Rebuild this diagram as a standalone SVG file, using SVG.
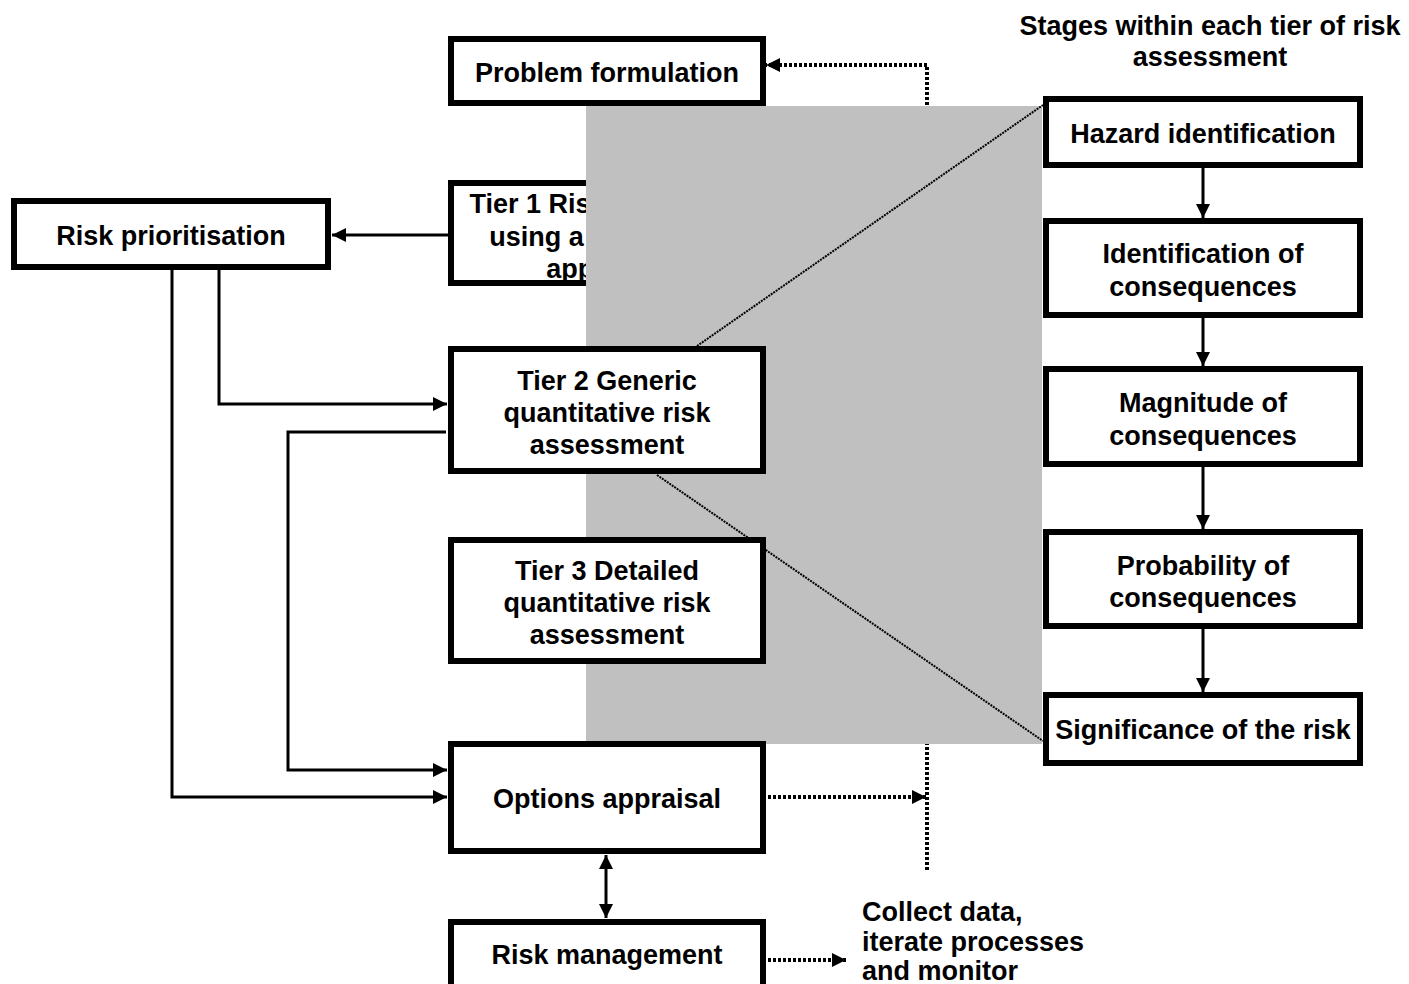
<svg xmlns="http://www.w3.org/2000/svg" width="1409" height="984" viewBox="0 0 1409 984">
<defs>
<style>
.box{fill:#fff;stroke:#000;stroke-width:6}
.t{font-family:"Liberation Sans",Arial,sans-serif;font-weight:bold;font-size:27px;fill:#000;text-anchor:middle}
.tl{font-family:"Liberation Sans",Arial,sans-serif;font-weight:bold;font-size:27px;fill:#000}
.c{fill:none;stroke:#000;stroke-width:3}
.d{fill:none;stroke:#000;stroke-width:4;stroke-dasharray:3 2}
.dg{fill:none;stroke:#000;stroke-width:2;stroke-dasharray:2 1}
</style>
<marker id="ah" viewBox="0 0 10 10" refX="10" refY="5" markerWidth="16" markerHeight="14" markerUnits="userSpaceOnUse" orient="auto-start-reverse">
<path d="M0,0 L10,5 L0,10 z" fill="#000"/>
</marker>
</defs>
<rect width="1409" height="984" fill="#fff"/>
<g id="bg-connectors">
<path class="d" d="M927,870 V65 H766" marker-end="url(#ah)"/>
</g>
<g id="problem-formulation">
<rect class="box" x="451" y="39" width="312" height="64"/>
<text class="t" x="607" y="82">Problem formulation</text>
</g>
<g id="tier1">
<rect class="box" x="451" y="183" width="312" height="100"/>
<text class="t" x="605" y="213">Tier 1 Risk screening</text>
<text class="t" x="607" y="246">using a qualitative</text>
<text class="t" x="607" y="278">approach</text>
</g>
<rect id="zoom-panel" x="586" y="106" width="456" height="638" fill="#c0c0c0"/>
<g id="zoom-lines">
<line class="dg" x1="697" y1="346" x2="1043" y2="105"/>
<line class="dg" x1="657" y1="475" x2="1043" y2="741"/>
</g>
<g id="risk-prioritisation">
<rect class="box" x="14" y="201" width="314" height="66"/>
<text class="t" x="171" y="245">Risk prioritisation</text>
</g>
<g id="tier2">
<rect class="box" x="451" y="349" width="312" height="122"/>
<text class="t" x="607" y="390">Tier 2 Generic</text>
<text class="t" x="607" y="422">quantitative risk</text>
<text class="t" x="607" y="454">assessment</text>
</g>
<g id="tier3">
<rect class="box" x="451" y="540" width="312" height="121"/>
<text class="t" x="607" y="580">Tier 3 Detailed</text>
<text class="t" x="607" y="612">quantitative risk</text>
<text class="t" x="607" y="644">assessment</text>
</g>
<g id="options-appraisal">
<rect class="box" x="451" y="744" width="312" height="107"/>
<text class="t" x="607" y="808">Options appraisal</text>
</g>
<g id="risk-management">
<rect class="box" x="451" y="922" width="312" height="68"/>
<text class="t" x="607" y="964">Risk management</text>
</g>
<g id="stages-title">
<text class="t" x="1210" y="35">Stages within each tier of risk</text>
<text class="t" x="1210" y="66">assessment</text>
</g>
<g id="hazard-identification">
<rect class="box" x="1046" y="99" width="314" height="66"/>
<text class="t" x="1203" y="143">Hazard identification</text>
</g>
<g id="identification-consequences">
<rect class="box" x="1046" y="221" width="314" height="94"/>
<text class="t" x="1203" y="263">Identification of</text>
<text class="t" x="1203" y="296">consequences</text>
</g>
<g id="magnitude-consequences">
<rect class="box" x="1046" y="369" width="314" height="95"/>
<text class="t" x="1203" y="412">Magnitude of</text>
<text class="t" x="1203" y="445">consequences</text>
</g>
<g id="probability-consequences">
<rect class="box" x="1046" y="532" width="314" height="94"/>
<text class="t" x="1203" y="575">Probability of</text>
<text class="t" x="1203" y="607">consequences</text>
</g>
<g id="significance-risk">
<rect class="box" x="1046" y="695" width="314" height="68"/>
<text class="t" x="1203" y="739">Significance of the risk</text>
</g>
<g id="collect-data">
<text class="tl" x="862" y="921">Collect data,</text>
<text class="tl" x="862" y="951">iterate processes</text>
<text class="tl" x="862" y="980">and monitor</text>
</g>
<g id="connectors">
<line class="c" x1="448" y1="235" x2="332" y2="235" marker-end="url(#ah)"/>
<path class="c" d="M219,270 V404 H447" marker-end="url(#ah)"/>
<path class="c" d="M172,270 V797 H447" marker-end="url(#ah)"/>
<path class="c" d="M446,432 H288 V770 H447" marker-end="url(#ah)"/>
<line class="c" x1="606" y1="855" x2="606" y2="918" marker-start="url(#ah)" marker-end="url(#ah)"/>
<line class="c" x1="1203" y1="168" x2="1203" y2="218" marker-end="url(#ah)"/>
<line class="c" x1="1203" y1="318" x2="1203" y2="366" marker-end="url(#ah)"/>
<line class="c" x1="1203" y1="467" x2="1203" y2="529" marker-end="url(#ah)"/>
<line class="c" x1="1203" y1="629" x2="1203" y2="692" marker-end="url(#ah)"/>
<line class="d" x1="768" y1="797" x2="926" y2="797" marker-end="url(#ah)"/>
<line class="d" x1="768" y1="960" x2="846" y2="960" marker-end="url(#ah)"/>
</g>
</svg>
